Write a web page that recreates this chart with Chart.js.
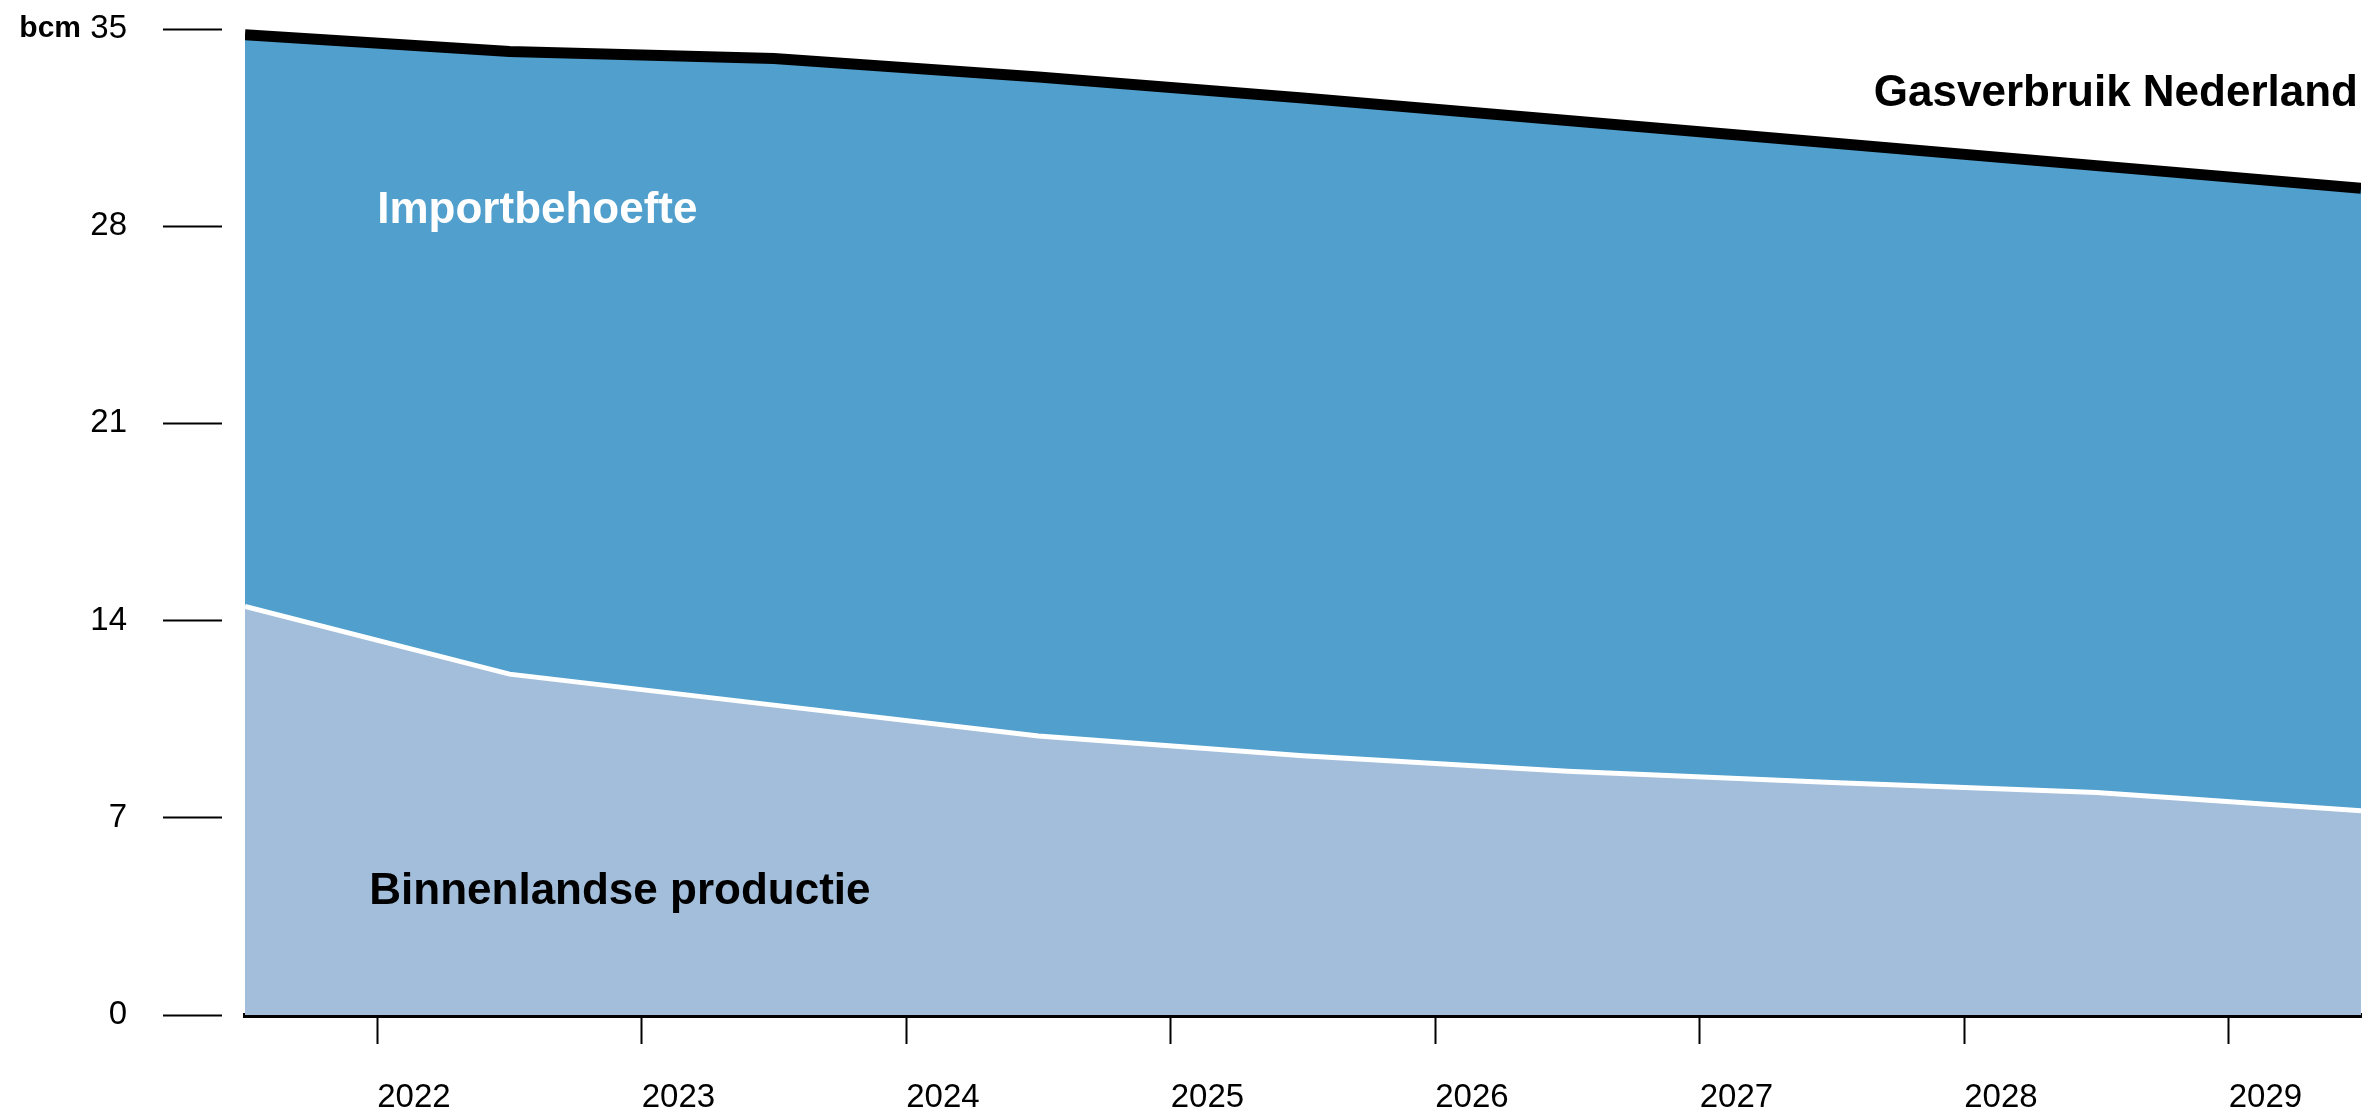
<!DOCTYPE html>
<html>
<head>
<meta charset="utf-8">
<script src="https://cdn.jsdelivr.net/npm/chart.js@4.4.1/dist/chart.umd.min.js"></script>
<style>
  html, body { margin: 0; padding: 0; background: #fff; }
  #wrap { width: 2370px; height: 1113px; }
</style>
</head>
<body>
<div id="wrap"><canvas id="chart"></canvas></div>
<script>
// year boundaries where the values are read (start of each year, end of 2029)
const boundaries = [2022, 2023, 2024, 2025, 2026, 2027, 2028, 2029, 2030];
// bcm
const domestic = [14.5, 12.1, 11.0, 9.9, 9.2, 8.65, 8.25, 7.9, 7.25];
const consumption = [34.8, 34.2, 33.95, 33.3, 32.55, 31.75, 30.95, 30.15, 29.35];

const yearLabels = ['2022', '2023', '2024', '2025', '2026', '2027', '2028', '2029'];
const yTicks = [0, 7, 14, 21, 28, 35];
const unitLabel = 'bcm';
const seriesNames = ['Binnenlandse productie', 'Importbehoefte', 'Gasverbruik Nederland'];

const FONT = "'Liberation Sans', Arial, sans-serif";
Chart.defaults.font.family = FONT;
Chart.defaults.color = '#000';

function toPoints(values) {
  return values.map((v, i) => ({ x: boundaries[i], y: v }));
}

const labelPlugin = {
  id: 'areaLabels',
  afterDraw(chart) {
    const ctx = chart.ctx;
    const x = chart.scales.x;
    const y = chart.scales.y;
    const area = chart.chartArea;
    ctx.save();
    ctx.textBaseline = 'alphabetic';
    ctx.font = 'bold 44px ' + FONT;

    ctx.fillStyle = '#fff';
    ctx.textAlign = 'left';
    ctx.fillText(seriesNames[1], x.getPixelForValue(2022.5), y.getPixelForValue(28.1));

    ctx.fillStyle = '#000';
    ctx.fillText(seriesNames[0], x.getPixelForValue(2022.47), y.getPixelForValue(3.95));

    ctx.textAlign = 'right';
    ctx.fillText(seriesNames[2], area.right - 3, y.getPixelForValue(32.25));

    ctx.font = 'bold 30px ' + FONT;
    ctx.textBaseline = 'middle';
    ctx.fillText(unitLabel, area.left - 164, y.getPixelForValue(35));
    ctx.restore();
  }
};

new Chart(document.getElementById('chart'), {
  type: 'line',
  data: {
    datasets: [
      {
        label: seriesNames[0],
        data: toPoints(domestic),
        borderColor: '#ffffff',
        borderWidth: 5,
        backgroundColor: '#a2bedb',
        fill: 'origin',
        pointRadius: 0,
        tension: 0
      },
      {
        label: seriesNames[2],
        data: toPoints(consumption),
        borderColor: '#000000',
        borderWidth: 11,
        backgroundColor: '#519fcc',
        fill: '-1',
        pointRadius: 0,
        tension: 0
      }
    ]
  },
  options: {
    responsive: true,
    maintainAspectRatio: false,
    animation: false,
    layout: { padding: { top: 29, right: 9, left: 0, bottom: 0 } },
    plugins: {
      legend: { display: false },
      tooltip: { enabled: false }
    },
    scales: {
      x: {
        type: 'linear',
        z: 1,
        min: boundaries[0],
        max: boundaries[boundaries.length - 1],
        afterBuildTicks: scale => {
          scale.ticks = yearLabels.map(l => ({ value: Number(l) + 0.5 }));
        },
        afterFit: scale => {
          scale.height = 98;
          scale.paddingLeft = 0;
          scale.paddingRight = 0;
        },
        grid: {
          drawOnChartArea: false,
          tickLength: 29,
          tickWidth: 2,
          tickColor: '#000'
        },
        border: { display: true, width: 5, color: '#000' },
        ticks: {
          align: 'start',
          padding: 34,
          font: { size: 33 },
          color: '#000',
          callback: value => String(Math.floor(value))
        }
      },
      y: {
        min: 0,
        max: 35,
        afterBuildTicks: scale => {
          scale.ticks = yTicks.map(v => ({ value: v }));
        },
        afterFit: scale => {
          scale.width = 245;
          scale.paddingTop = 0;
          scale.paddingBottom = 0;
        },
        grid: {
          drawOnChartArea: false,
          tickLength: 82,
          tickWidth: 2,
          tickColor: '#000',
          tickBorderDash: [59, 300]
        },
        border: { display: false },
        ticks: {
          padding: 36,
          font: { size: 33 },
          color: '#000'
        }
      }
    }
  },
  plugins: [labelPlugin]
});
</script>
</body>
</html>
